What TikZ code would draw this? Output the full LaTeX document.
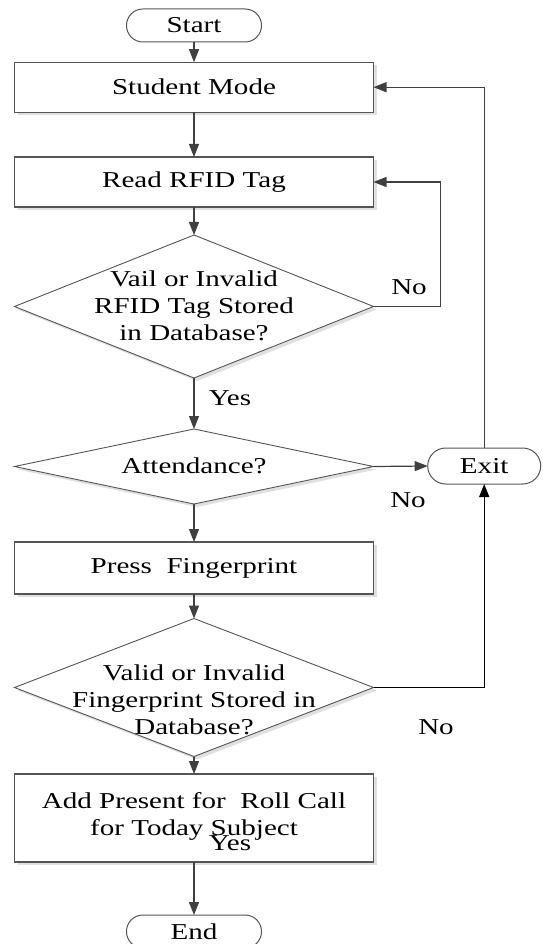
\documentclass[tikz,border=0pt]{standalone}
\usepackage{fontspec}
\setmainfont[FakeStretch=1.28]{Liberation Serif}
\usepackage{tikz}
\usetikzlibrary{shapes.geometric, shadows, arrows.meta, positioning}

\definecolor{linegray}{HTML}{555555}
\definecolor{arrowgray}{HTML}{404040}

\tikzset{
  flowshadow/.style={drop shadow={shadow xshift=3pt, shadow yshift=-3pt, fill=black!12, opacity=1}},
  process/.style={draw=linegray, line width=1.2pt, fill=white, flowshadow, minimum width=359pt, inner sep=0pt, outer sep=0pt, align=center},
  decision/.style={diamond, draw=linegray, line width=0.9pt, fill=white, flowshadow, minimum width=359pt, inner sep=0pt, outer sep=0pt},
  terminal/.style={draw=linegray, line width=1pt, fill=white, rounded corners=16.4pt, minimum width=135pt, minimum height=33pt, inner sep=0pt, outer sep=0pt},
  conn/.style={draw=arrowgray, line width=1.2pt, -{Triangle[length=13pt,width=10pt]}},
  lbl/.style={inner sep=0pt, align=center}
}

\begin{document}
\begin{tikzpicture}[x=1pt, y=-1pt, font=\fontsize{22.7pt}{27pt}\selectfont]
\useasboundingbox (0,0) rectangle (542,944);

% terminals
\node[terminal] (start) at (194,25.5) {Start};
\node[terminal, minimum width=113pt, minimum height=36pt, rounded corners=18pt] (exit) at (484.2,466) {Exit};
\node[terminal] (finish) at (194,931.5) {End};

% process boxes
\node[process, minimum height=50pt] (mode) at (194,87.2) {Student Mode};
\node[process, minimum height=50pt] (read) at (194,182) {Read RFID Tag};
\node[process, minimum height=52pt] (press) at (194,568) {Press\ \ Fingerprint};
\node[process, minimum height=88pt] (add) at (194,818) {};
\node[lbl] (addtxt) at (194,816.5) {Add Present for\ \ Roll Call\\for Today Subject};

% decisions
\node[decision, minimum height=143pt] (check1) at (194,306.5) {};
\node[lbl] (check1txt) at (194,306) {Vail or Invalid\\RFID Tag Stored\\in Database?};
\node[decision, minimum height=75pt] (attend) at (194,466.5) {};
\node[lbl] (attendtxt) at (194,466) {Attendance?};
\node[decision, minimum height=138pt] (check2) at (194,687.5) {};
\node[lbl] (check2txt) at (194,700) {Valid or Invalid\\Fingerprint Stored in\\Database?};

% main flow
\draw[conn] (start) -- (mode);
\draw[conn] (mode) -- (read);
\draw[conn] (read) -- (check1);
\draw[conn] (check1) -- (attend);
\draw[conn] (attend) -- (press);
\draw[conn] (press) -- (check2);
\draw[conn] (check2) -- (add);
\draw[conn] (add) -- (finish);

% loops back and exits
\draw[conn] (check1.east) -- ++(67,0) |- (read.east);
\draw[conn] (attend.east) -- (exit.west);
\draw[conn] (exit) |- (mode);
\draw[conn, draw=black] (check2.east) -| (exit);

% branch labels
\node[lbl] (no1) at (409,287) {No};
\node[lbl] (yes1) at (230,398) {Yes};
\node[lbl] (no2) at (408,500) {No};
\node[lbl] (no3) at (436,727) {No};
\node[lbl] (yes2) at (230,843) {Yes};
\end{tikzpicture}
\end{document}
